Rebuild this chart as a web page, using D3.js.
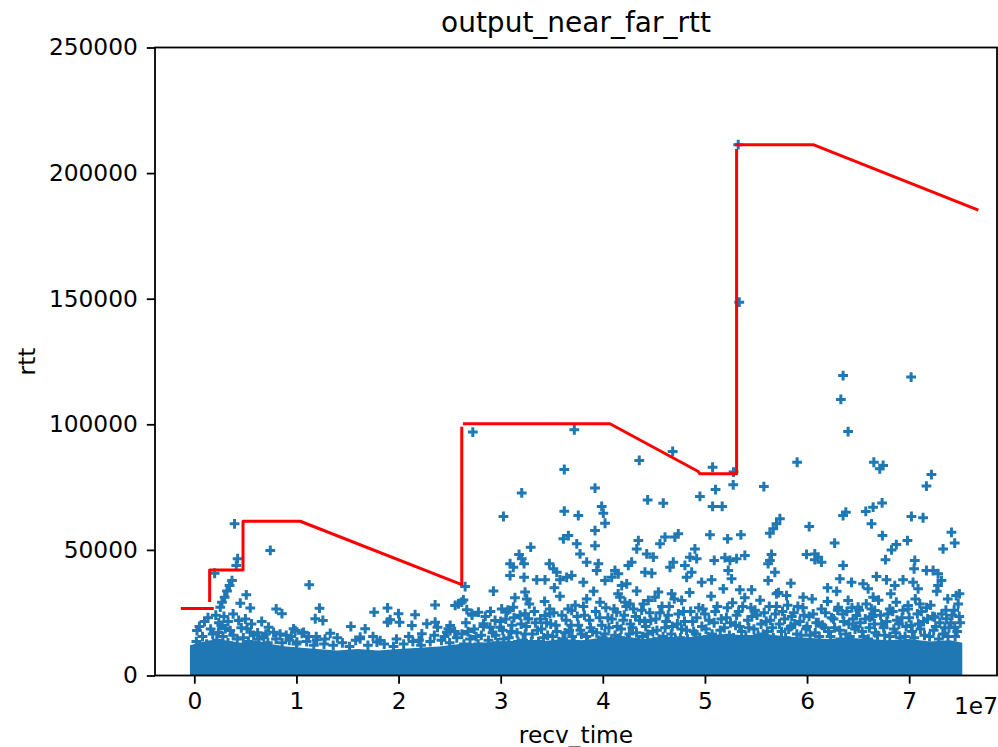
<!DOCTYPE html>
<html><head><meta charset="utf-8">
<script src="https://cdn.jsdelivr.net/npm/d3@7"></script>
<style>body{margin:0;background:#fff}svg{display:block;background:#fff}text{font-family:"DejaVu Sans",sans-serif;fill:#000}</style>
</head><body><svg id="c" width="998" height="747"></svg>
<script>
const title = "output_near_far_rtt";
const xLabel = "recv_time";
const yLabel = "rtt";
const xOffsetLabel = "1e7";
const xTicks = [0, 1, 2, 3, 4, 5, 6, 7];
const yTicks = [0, 50000, 100000, 150000, 200000, 250000];
const xDomain = [-0.385, 7.86];      // recv_time in units of 1e7
const yDomain = [0, 250000];

// red "near/far rtt" line, pieces as drawn
const farRttA = [[-0.117, 26700], [0.176, 26700]];
const farRttB = [[0.150, 29900], [0.150, 42000], [0.477, 42000], [0.477, 61400], [1.037, 61400], [2.619, 36200], [2.619, 98400]];
const farRttC = [[2.645, 100200], [4.070, 100200], [4.935, 81200], [4.951, 80300], [5.310, 80300], [5.310, 209000]];
const farRttD = [[5.310, 211300], [6.060, 211300], [7.664, 185500]];

// upper edge of the solid mass of rtt samples near zero
const denseBandTop = [[-0.043, 0], [-0.043, 12000], [0.05, 13000], [0.15, 14000], [0.3, 14000], [0.45, 13000], [0.6, 14000], [0.75, 12500], [0.9, 11500], [1.05, 11000], [1.2, 10500], [1.4, 10000], [1.6, 10500], [1.8, 10000], [2.0, 10500], [2.2, 11000], [2.4, 11500], [2.6, 12500], [2.8, 13000], [3.0, 13500], [3.2, 14000], [3.4, 13500], [3.6, 14500], [3.8, 14000], [4.0, 15000], [4.2, 15500], [4.4, 14500], [4.6, 15500], [4.8, 15000], [5.0, 16000], [5.2, 16500], [5.4, 16000], [5.6, 16500], [5.8, 15500], [6.0, 15000], [6.2, 14500], [6.4, 15000], [6.6, 14500], [6.8, 14000], [7.0, 14500], [7.2, 13500], [7.4, 14000], [7.52, 13000], [7.52, 0]];

// individual rtt samples above the dense mass: [recv_time (1e7), rtt]
const samplesHigh = [[5.326,211300],[5.336,148600],[6.353,119400],[6.331,109900],[6.402,97100],[7.019,118800],[2.727,96900],[3.721,97800],[4.684,89200],[4.357,85600],[3.623,82000],[3.206,72700],[3.027,63300],[3.924,74600],[4.439,69900],[4.592,68600],[5.075,82900],[5.104,74000],[5.277,75900],[5.28,81000],[4.951,71300],[5.075,67300],[5.169,67300],[5.577,75200],[5.903,84900],[6.654,84900],[6.745,83600],[6.712,82300],[7.218,80000],[7.169,75400],[7.022,63300],[7.136,62800],[6.353,63700],[6.380,65000],[6.575,65300],[6.647,67000],[6.735,68700],[6.631,60400],[6.738,55700],[6.021,59300]];
const samplesEarly = [[0.394,60400],[0.424,46500],[0.411,43800],[0.744,49800],[0.199,40700],[0.369,37800],[0.345,35800],[0.320,33600],[0.297,31200],[0.271,29200],[0.254,27200],[0.509,32100],[0.450,28800],[0.548,26900],[0.134,23000],[0.026,17900],[0.434,21900],[1.125,36100],[0.802,26500],[0.858,24600],[1.184,22600],[0.264,19900],[0.303,18700],[0.352,17900],[0.235,17100],[0.516,18600],[0.548,17200],[0.727,19200],[0.776,17200],[0.972,18600],[1.070,17200],[1.194,15500],[1.226,26800],[1.259,21900],[1.331,16800],[0.988,17900],[1.054,16800],[1.200,14200],[1.533,19500],[1.673,18600],[1.761,25200],[1.892,26900],[1.999,24600],[1.892,21200],[1.918,22200],[2.009,21200],[2.162,24200],[2.130,19900],[2.228,16600],[2.277,20600],[2.358,21200],[2.381,19200],[2.358,28100],[2.488,18600],[2.505,19900],[2.554,27900],[2.619,29200],[2.717,24600],[2.782,25200],[2.929,33600],[2.831,20600],[2.896,19200],[1.624,14600],[1.788,13300],[1.820,13900],[1.005,13300],[1.624,15300]];
const samplesMid = [[3.623,65400],[3.760,63700],[3.614,54400],[3.663,55700],[3.745,52400],[3.294,51100],[3.180,48200],[3.206,46500],[3.229,44500],[3.092,44500],[3.124,43100],[3.477,44500],[3.516,42500],[3.549,41100],[3.092,39800],[3.229,39100],[3.353,38100],[3.434,38100],[3.581,38100],[3.646,39100],[3.695,39800],[3.526,34900],[3.239,33200],[3.256,30500],[2.652,35400],[2.635,30100],[2.586,28500],[2.668,26200],[2.505,17900],[2.473,17200],[3.010,26500],[3.058,25200],[3.124,27200],[2.945,21900],[2.994,19200],[3.239,24600],[3.271,22600],[3.434,23900],[3.483,24600],[3.695,25900],[3.989,67300],[4.005,64600],[4.022,60600],[3.924,57700],[3.777,48400],[3.924,51700],[3.842,45100],[3.956,44500],[3.940,41800],[3.809,37100],[4.022,37800],[4.087,39100],[4.119,41800],[4.152,40500],[4.250,43800],[4.282,45100],[4.332,50400],[4.348,53700],[4.430,48400],[4.495,47100],[4.413,41100],[4.479,40700],[4.560,52400],[4.609,55100],[4.706,55100],[4.739,56400],[4.690,45100],[4.658,43100],[4.804,43800],[4.853,47100],[4.902,50400],[4.919,46500],[4.821,39100],[4.870,41100],[4.968,37100],[4.185,35800],[4.234,36500],[4.332,33600],[3.842,30500],[3.973,29200],[4.168,31200],[4.217,29200],[4.266,28500],[4.136,25200],[4.397,28500],[4.446,29900],[4.511,31200],[4.544,33200],[4.674,32500],[4.772,29900]];
const samplesLate = [[5.049,56000],[5.222,54400],[5.352,56000],[5.091,45800],[5.196,46900],[5.245,45800],[5.310,46500],[5.391,47800],[5.228,41800],[5.261,38500],[5.065,38100],[5.652,48200],[5.636,45800],[5.619,44500],[5.685,41100],[5.734,62400],[5.701,60400],[5.669,58400],[5.636,56600],[5.995,48200],[6.076,48400],[6.109,47100],[6.141,45100],[6.076,46100],[6.27,52700],[5.841,36700],[6.201,34900],[5.457,34100],[5.342,34100],[5.619,37800],[5.962,31200],[5.799,31800],[5.701,32500],[6.983,53700],[6.874,52100],[6.827,50000],[6.768,46100],[7.414,57000],[7.446,52700],[7.332,50400],[7.055,45800],[7.048,42500],[6.353,43800],[6.321,38500],[7.169,41800],[7.234,41800],[7.283,40500],[7.316,37800],[7.283,35800],[6.680,39400],[6.778,38100],[6.435,37100],[6.549,36500],[6.598,34500],[6.647,31200],[6.859,35800],[6.940,38100],[7.038,37100],[7.087,34500],[7.378,30500],[7.460,31800],[7.492,32500],[6.402,29900],[6.305,27200],[6.500,27200],[6.484,23900],[6.663,25900],[6.614,23200],[6.810,26500],[6.874,29200],[6.989,27900],[7.104,28500],[7.250,23200],[7.365,22600],[7.446,19200]];
// crowded samples just above the dense mass
const samplesBandEarly = [[0.02,13500],[0.08,15500],[0.12,12500],[0.18,16500],[0.22,14000],[0.28,15500],[0.33,13000],[0.38,16000],[0.42,14500],[0.48,15000],[0.53,13500],[0.58,16000],[0.63,14500],[0.68,15500],[0.72,13000],[0.80,14500],[0.86,13000],[0.93,14000],[1.00,12500],[1.10,13500],[1.17,12000],[1.27,12500],[1.36,12000],[1.45,13000],[1.52,11500],[1.70,12000],[1.86,12500],[1.95,11500],[2.05,12500],[2.14,13500],[2.22,12000],[2.31,13500],[2.42,14000],[2.50,13000],[2.57,15000],[0.05,19500],[0.10,21500],[0.16,18500],[0.21,24000],[0.24,21000],[0.29,23500],[0.33,21500],[0.38,24500],[0.46,19000],[0.50,22500],[0.56,20500],[0.62,17000],[0.66,21500],[0.70,16500],[0.84,16500],[0.90,16000],[0.95,15500],[1.12,15500],[1.28,14500],[1.40,15000],[1.58,14000],[1.75,15500],[1.98,14500],[2.10,15500],[2.20,14000],[2.35,16000],[2.45,15500],[2.55,17500]];
const samplesBandLate = [[2.62,16500],[2.66,21000],[2.70,14500],[2.74,18500],[2.78,12500],[2.81,16000],[2.85,23500],[2.88,14000],[2.92,17000],[2.97,13000],[3.02,18000],[3.05,22500],[3.08,15000],[3.11,20000],[3.14,31000],[3.16,17000],[3.19,24000],[3.22,14000],[3.25,19500],[3.28,28500],[3.31,16500],[3.34,21000],[3.37,13500],[3.40,18500],[3.43,29500],[3.46,16000],[3.49,20500],[3.52,25000],[3.55,17500],[3.58,31500],[3.61,14500],[3.64,22000],[3.67,18000],[3.70,15500],[3.73,28000],[3.76,20000],[3.79,16500],[3.82,24000],[3.85,13500],[3.88,19000],[3.91,33500],[3.94,17000],[3.97,23000],[4.00,15000],[4.03,27000],[4.06,19000],[4.09,22500],[4.12,16000],[4.15,32500],[4.18,18500],[4.21,24000],[4.24,14500],[4.27,20500],[4.30,26500],[4.33,17000],[4.36,22000],[4.39,15500],[4.42,19500],[4.46,25000],[4.49,17500],[4.52,22500],[4.55,14500],[4.58,27500],[4.61,19000],[4.64,24000],[4.67,16500],[4.70,30500],[4.73,20500],[4.76,15000],[4.79,25500],[4.82,18000],[4.85,33000],[4.88,21500],[4.91,16500],[4.94,27000],[4.97,19500],[5.00,24500],[5.03,15500],[5.06,31500],[5.09,21000],[5.12,27500],[5.15,18000],[5.18,34500],[5.21,23000],[5.24,16000],[5.27,29000],[5.30,20000],[5.33,25500],[5.36,17500],[5.39,31000],[5.42,22000],[5.45,27000],[5.48,18500],[5.51,24000],[5.54,30000],[5.57,16500],[5.60,21500],[5.63,27500],[5.66,19000],[5.69,24500],[5.72,33000],[5.75,17500],[5.78,22500],[5.81,28000],[5.84,19500],[5.87,25000],[5.90,16500],[5.93,21500],[5.96,27000],[5.99,18500],[6.02,23500],[6.05,30500],[6.08,17000],[6.11,21000],[6.14,26500],[6.17,19000],[6.20,29500],[6.23,15500],[6.26,22500],[6.29,33500],[6.32,18000],[6.35,24500],[6.38,16500],[6.41,20500],[6.44,27000],[6.47,18500],[6.52,21000],[6.55,15500],[6.58,28500],[6.61,19000],[6.64,23500],[6.67,17000],[6.70,30000],[6.73,20500],[6.76,16000],[6.79,24500],[6.82,32500],[6.85,18500],[6.88,22000],[6.91,15000],[6.94,26000],[6.97,19500],[7.00,23000],[7.03,17500],[7.06,30500],[7.09,20500],[7.12,25500],[7.15,16000],[7.18,22500],[7.21,28000],[7.24,18000],[7.27,33500],[7.30,21000],[7.33,16500],[7.36,26000],[7.39,19000],[7.42,24000],[7.45,15500],[7.48,28500],[7.50,21000]];
const samplesBandLate2 = [[2.64,12500],[2.68,17500],[2.72,24000],[2.76,15500],[2.83,19500],[2.90,25500],[2.95,16000],[3.00,21500],[3.03,14500],[3.07,26000],[3.10,17500],[3.13,23000],[3.17,13500],[3.20,20500],[3.24,16500],[3.27,22500],[3.30,13500],[3.33,25500],[3.36,18000],[3.39,22500],[3.42,15000],[3.45,21000],[3.48,26500],[3.51,15500],[3.54,20000],[3.57,13500],[3.60,24000],[3.63,17000],[3.66,26500],[3.69,20000],[3.72,13500],[3.75,23500],[3.78,18000],[3.81,27500],[3.84,15500],[3.87,22000],[3.90,17500],[3.93,25500],[3.96,14000],[3.99,20000],[4.02,16500],[4.05,23000],[4.08,13500],[4.11,26500],[4.14,19500],[4.17,15000],[4.20,22000],[4.23,27500],[4.26,16500],[4.29,19000],[4.32,23500],[4.35,14000],[4.38,26000],[4.41,21500],[4.44,16500],[4.47,22000],[4.50,13500],[4.53,18000],[4.56,25000],[4.59,15500],[4.62,21500],[4.65,27500],[4.68,19500],[4.71,14500],[4.74,24500],[4.77,18500],[4.80,21500],[4.83,14500],[4.86,25500],[4.89,17500],[4.92,23000],[4.95,15000],[4.98,26500],[5.01,18500],[5.04,22000],[5.07,16500],[5.10,25500],[5.13,14000],[5.16,22500],[5.19,19000],[5.22,27000],[5.25,21000],[5.28,15000],[5.31,24000],[5.34,19500],[5.37,27500],[5.40,15500],[5.43,19000],[5.46,23500],[5.49,26000],[5.52,16000],[5.55,20500],[5.58,25000],[5.61,17500],[5.64,22000],[5.67,15000],[5.70,27500],[5.73,20500],[5.76,25500],[5.79,15000],[5.82,18500],[5.85,23500],[5.88,20500],[5.91,27500],[5.94,16000],[5.97,24000],[6.00,19500],[6.03,16000],[6.06,24500],[6.09,21000],[6.12,15500],[6.15,20000],[6.18,25000],[6.21,17500],[6.24,23000],[6.27,19000],[6.30,26000],[6.33,14500],[6.36,21500],[6.39,25500],[6.42,15500],[6.45,22500],[6.48,19500],[6.51,26000],[6.54,17500],[6.57,22500],[6.60,14500],[6.63,26500],[6.66,20500],[6.69,16000],[6.72,24000],[6.75,19000],[6.78,21500],[6.81,15500],[6.84,25500],[6.87,17000],[6.90,20500],[6.93,23000],[6.96,15500],[6.99,26500],[7.02,20000],[7.05,15000],[7.08,24500],[7.11,18500],[7.14,21500],[7.17,27000],[7.20,15500],[7.23,23500],[7.26,19500],[7.29,14500],[7.32,24500],[7.35,19000],[7.38,15500],[7.41,21000],[7.44,26000],[7.47,17500],[7.49,23500]];

const blue = "#1f77b4", red = "#ff0000";
const plot = {left: 155, right: 997, top: 47.5, bottom: 675.5};
const svg = d3.select("#c");
const x = d3.scaleLinear().domain(xDomain).range([plot.left, plot.right]);
const y = d3.scaleLinear().domain(yDomain).range([plot.bottom, plot.top]);

svg.append("defs").append("clipPath").attr("id", "clip")
  .append("rect").attr("x", plot.left).attr("y", plot.top)
  .attr("width", plot.right - plot.left).attr("height", plot.bottom - plot.top);
const g = svg.append("g").attr("clip-path", "url(#clip)");

// dense mass
g.append("path").datum(denseBandTop)
  .attr("d", d3.area().x(d => x(d[0])).y0(y(0) + 1).y1(d => y(d[1])))
  .attr("fill", blue);

// plus markers
const allSamples = samplesBandEarly.concat(samplesBandLate, samplesBandLate2, samplesHigh, samplesEarly, samplesMid, samplesLate);
const r = 4.9;
g.append("path")
  .attr("d", allSamples.map(d => {
    const cx = x(d[0]), cy = y(d[1]);
    return `M${cx - r},${cy}H${cx + r}M${cx},${cy - r}V${cy + r}`;
  }).join(""))
  .attr("fill", "none").attr("stroke", blue).attr("stroke-width", 3);

// red line
const line = d3.line().x(d => x(d[0])).y(d => y(d[1]));
[farRttA, farRttB, farRttC, farRttD].forEach(seg => {
  g.append("path").datum(seg).attr("d", line)
    .attr("fill", "none").attr("stroke", red).attr("stroke-width", 3)
    .attr("stroke-linecap", "square").attr("stroke-linejoin", "round");
});

// axes
const fs = 23.3;
const xAxis = svg.append("g").attr("transform", `translate(0,${plot.bottom})`)
  .call(d3.axisBottom(x).tickValues(xTicks).tickFormat(d3.format("d")).tickSize(8.2).tickPadding(9));
const yAxis = svg.append("g").attr("transform", `translate(${plot.left},0)`)
  .call(d3.axisLeft(y).tickValues(yTicks).tickFormat(d3.format("d")).tickSize(8.2).tickPadding(9));
[xAxis, yAxis].forEach(a => {
  a.select(".domain").remove();
  a.selectAll("line").attr("stroke", "#000").attr("stroke-width", 1.8);
  a.selectAll("text").attr("font-family", "DejaVu Sans").attr("font-size", fs).attr("fill", "#000");
});

// spines
svg.append("rect").attr("x", plot.left).attr("y", plot.top)
  .attr("width", plot.right - plot.left).attr("height", plot.bottom - plot.top)
  .attr("fill", "none").attr("stroke", "#000").attr("stroke-width", 1.8);

// labels
svg.append("text").attr("x", (plot.left + plot.right) / 2).attr("y", 32)
  .attr("text-anchor", "middle").attr("font-size", 28).text(title);
svg.append("text").attr("x", (plot.left + plot.right) / 2).attr("y", 743)
  .attr("text-anchor", "middle").attr("font-size", fs).text(xLabel);
svg.append("text").attr("transform", `translate(35,${(plot.top + plot.bottom) / 2}) rotate(-90)`)
  .attr("text-anchor", "middle").attr("font-size", fs).text(yLabel);
svg.append("text").attr("x", 998).attr("y", 714)
  .attr("text-anchor", "end").attr("font-size", fs).text(xOffsetLabel);
</script></body></html>
